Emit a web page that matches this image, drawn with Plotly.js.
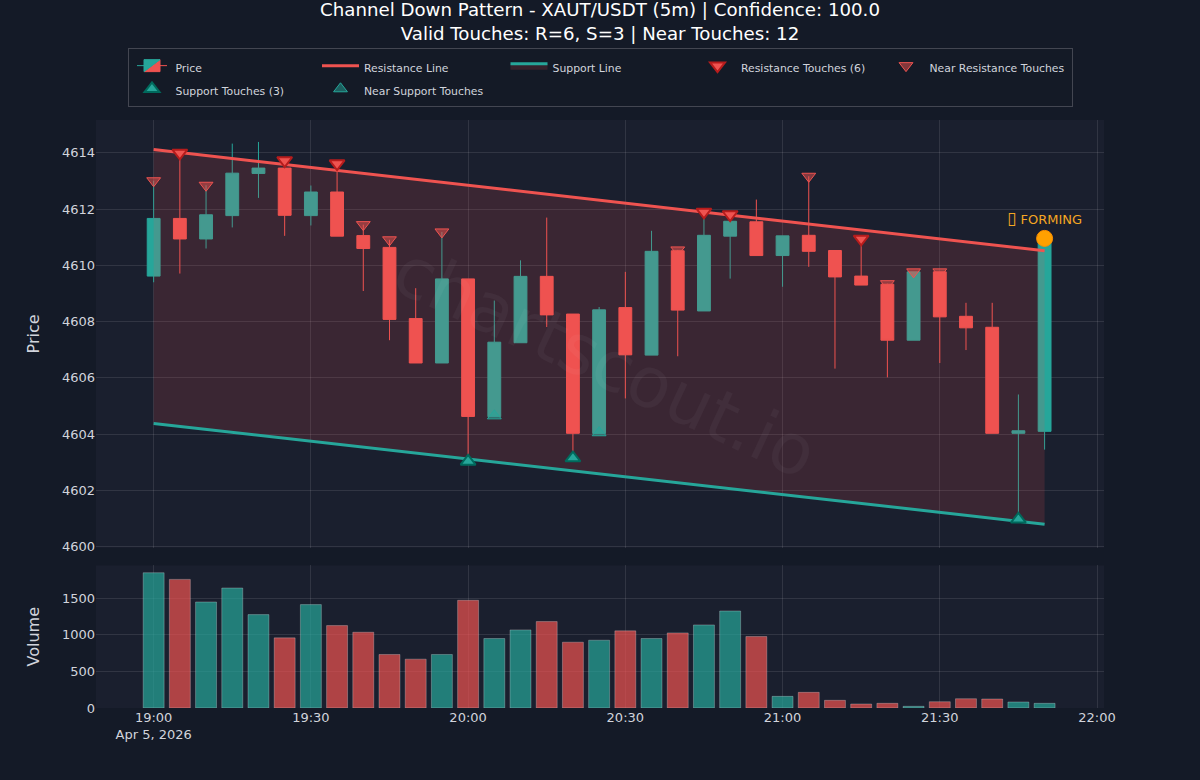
<!DOCTYPE html>
<html><head><meta charset="utf-8">
<script src="https://cdn.plot.ly/plotly-3.0.1.min.js"></script>
<style>html,body{margin:0;padding:0;background:#141a27}</style></head>
<body><div id="chart" style="width:1200px;height:780px"></div>
<script>
const times = ["2026-04-05 19:00","2026-04-05 19:05","2026-04-05 19:10","2026-04-05 19:15","2026-04-05 19:20","2026-04-05 19:25","2026-04-05 19:30","2026-04-05 19:35","2026-04-05 19:40","2026-04-05 19:45","2026-04-05 19:50","2026-04-05 19:55","2026-04-05 20:00","2026-04-05 20:05","2026-04-05 20:10","2026-04-05 20:15","2026-04-05 20:20","2026-04-05 20:25","2026-04-05 20:30","2026-04-05 20:35","2026-04-05 20:40","2026-04-05 20:45","2026-04-05 20:50","2026-04-05 20:55","2026-04-05 21:00","2026-04-05 21:05","2026-04-05 21:10","2026-04-05 21:15","2026-04-05 21:20","2026-04-05 21:25","2026-04-05 21:30","2026-04-05 21:35","2026-04-05 21:40","2026-04-05 21:45","2026-04-05 21:50"];
const opens  = [4609.62,4611.67,4610.94,4611.77,4613.27,4613.46,4611.77,4612.61,4611.06,4610.64,4608.11,4606.53,4609.52,4604.62,4607.25,4609.61,4608.27,4604.02,4608.50,4606.81,4610.52,4608.38,4611.04,4611.55,4610.35,4611.07,4610.53,4609.62,4609.33,4607.34,4609.77,4608.19,4607.80,4604.03,4604.10];
const highs  = [4613.01,4614.00,4612.85,4614.33,4614.39,4613.73,4612.84,4613.62,4611.45,4610.91,4609.19,4611.19,4609.52,4608.75,4610.18,4611.70,4608.27,4608.52,4609.77,4611.23,4610.55,4611.90,4611.81,4612.34,4611.05,4613.17,4610.53,4610.94,4609.35,4609.77,4609.77,4608.67,4608.67,4605.41,4610.96];
const lows   = [4609.40,4609.71,4610.60,4611.35,4612.40,4611.05,4611.42,4611.04,4609.09,4607.34,4606.53,4606.53,4603.03,4604.62,4607.25,4607.81,4603.15,4604.02,4605.27,4606.81,4606.77,4608.38,4609.53,4610.35,4609.24,4609.95,4606.33,4609.30,4606.02,4607.34,4606.53,4606.99,4604.03,4600.97,4603.45];
const closes = [4611.67,4610.94,4611.80,4613.28,4613.46,4611.78,4612.61,4611.04,4610.60,4608.08,4606.53,4609.52,4604.63,4607.27,4609.61,4608.24,4604.03,4608.42,4606.82,4610.50,4608.41,4611.07,4611.57,4610.35,4611.05,4610.50,4609.59,4609.30,4607.34,4609.77,4608.17,4607.78,4604.03,4604.12,4610.90];
const volumes = [1850,1759,1450,1641,1277,959,1414,1127,1036,732,668,732,1473,950,1068,1182,900,927,1055,950,1027,1136,1327,977,159,214,105,55,64,23,86,127,123,82,64];
const volumeSides = ["u","d","u","u","u","d","u","d","d","d","d","u","d","u","u","d","d","u","d","u","d","u","u","d","u","d","d","d","d","u","d","d","d","u","u"];

const lineTimes = ["2026-04-05 19:00","2026-04-05 21:50"];
const resistanceLine = [4614.12,4610.52];
const supportLine = [4604.38,4600.80];

const resTouchTimes = ["2026-04-05 19:05","2026-04-05 19:25","2026-04-05 19:35","2026-04-05 20:45","2026-04-05 20:50","2026-04-05 21:15"];
const resTouchPrices = [4614.00,4613.73,4613.62,4611.90,4611.81,4610.94];
const supTouchTimes = ["2026-04-05 20:00","2026-04-05 20:20","2026-04-05 21:45"];
const supTouchPrices = [4603.03,4603.15,4600.97];
const nearResTimes = ["2026-04-05 19:00","2026-04-05 19:10","2026-04-05 19:40","2026-04-05 19:45","2026-04-05 19:55","2026-04-05 20:40","2026-04-05 21:05","2026-04-05 21:20","2026-04-05 21:25","2026-04-05 21:30"];
const nearResPrices = [4613.01,4612.85,4611.45,4610.91,4611.19,4610.55,4613.17,4609.35,4609.77,4609.77];
const nearSupTimes = ["2026-04-05 20:05","2026-04-05 20:25"];
const nearSupPrices = [4604.65,4604.05];
const formingTime = ["2026-04-05 21:50"];
const formingPrice = [4610.96];
const formingLabel = ['<span style="font-size:17px">\u25AF</span> FORMING'];

const GREEN="#26a69a", RED="#ef5350", TXT="#d1d4dc", GRID="rgba(255,255,255,0.1)";
const lg = s => '<span style="font-size:10.85px">'+s+'</span>';

const traces = [
 {type:"candlestick",name:lg("Price"),x:times,open:opens,high:highs,low:lows,close:closes,xaxis:"x",yaxis:"y",
  increasing:{line:{color:GREEN,width:1},fillcolor:GREEN},decreasing:{line:{color:RED,width:1},fillcolor:RED}},
 {type:"scatter",mode:"lines",name:lg("Resistance Line"),x:lineTimes,y:resistanceLine,line:{color:RED,width:3},xaxis:"x",yaxis:"y"},
 {type:"scatter",mode:"lines",name:lg("Support Line"),x:lineTimes,y:supportLine,line:{color:GREEN,width:3},fill:"tonexty",fillcolor:"rgba(239,83,80,0.15)",xaxis:"x",yaxis:"y"},
 {type:"scatter",mode:"markers",name:lg("Resistance Touches (6)"),x:resTouchTimes,y:resTouchPrices,marker:{symbol:"triangle-down",size:13,color:RED,line:{color:"#b71c1c",width:2}},xaxis:"x",yaxis:"y"},
 {type:"scatter",mode:"markers",name:lg("Near Resistance Touches"),x:nearResTimes,y:nearResPrices,marker:{symbol:"triangle-down",size:12,color:"rgba(239,83,80,0.5)",line:{color:RED,width:1}},xaxis:"x",yaxis:"y"},
 {type:"scatter",mode:"markers",name:lg("Support Touches (3)"),x:supTouchTimes,y:supTouchPrices,marker:{symbol:"triangle-up",size:13,color:GREEN,line:{color:"#00695c",width:2}},xaxis:"x",yaxis:"y"},
 {type:"scatter",mode:"markers",name:lg("Near Support Touches"),x:nearSupTimes,y:nearSupPrices,marker:{symbol:"triangle-up",size:12,color:"rgba(38,166,154,0.5)",line:{color:GREEN,width:1}},xaxis:"x",yaxis:"y"},
 {type:"scatter",mode:"markers+text",showlegend:false,x:formingTime,y:formingPrice,text:formingLabel,textposition:"top center",textfont:{color:"#f5a623",size:13},
  marker:{size:16,color:"#ffa000",line:{color:"#ff8f00",width:1}},xaxis:"x",yaxis:"y"},
 {type:"bar",showlegend:false,x:times,y:volumes,xaxis:"x2",yaxis:"y2",
  marker:{color:volumeSides.map(s=>s==="u"?"rgba(38,166,154,0.7)":"rgba(239,83,80,0.7)"),line:{color:"rgba(255,255,255,0.25)",width:1}}}
];
const xRange=["2026-04-05 18:49","2026-04-05 22:01:20"];
const ax={gridcolor:GRID,gridwidth:1,zeroline:false,showline:false,tickfont:{color:TXT,size:13},color:TXT};
const layout={
 width:1200,height:780,
 paper_bgcolor:"#141a27",plot_bgcolor:"#1a1f2e",
 font:{family:"DejaVu Sans, sans-serif",color:TXT},
 margin:{l:96,r:96,t:120,b:72},
 showlegend:true,
 title:{text:"Channel Down Pattern - XAUT/USDT (5m) | Confidence: 100.0<br>Valid Touches: R=6, S=3 | Near Touches: 12",x:0.5,xanchor:"center",y:0.979,yanchor:"top",font:{size:18.2,color:"#ffffff"}},
 legend:{orientation:"h",traceorder:"normal",entrywidth:136.5,entrywidthmode:"pixels",itemwidth:37,x:0.5,xanchor:"center",y:1.022,yanchor:"bottom",bgcolor:"rgba(20,26,39,0.8)",bordercolor:"#434651",borderwidth:1,font:{size:15.5,color:TXT}},
 xaxis:Object.assign({},ax,{domain:[0,1],range:xRange,anchor:"y",matches:"x2",showticklabels:false,rangeslider:{visible:false},dtick:1800000,tick0:"2026-04-05 19:00"}),
 yaxis:Object.assign({},ax,{domain:[0.2725,1],range:[4599.96,4615.17],dtick:2,tickformat:"d",title:{text:"Price",standoff:18,font:{size:16,color:TXT}}}),
 xaxis2:Object.assign({},ax,{domain:[0,1],range:xRange,anchor:"y2",dtick:1800000,tick0:"2026-04-05 19:00"}),
 yaxis2:Object.assign({},ax,{domain:[0,0.2425],range:[0,1950],dtick:500,title:{text:"Volume",standoff:18,font:{size:16,color:TXT}}}),
 annotations:[{text:"chartscout.io",xref:"paper",yref:"paper",x:0.505,y:0.588,xanchor:"center",yanchor:"middle",showarrow:false,textangle:25,font:{size:70,color:"rgba(255,255,255,0.04)"}}]
};
Plotly.newPlot("chart",traces,layout,{displayModeBar:false,responsive:false});
</script></body></html>
